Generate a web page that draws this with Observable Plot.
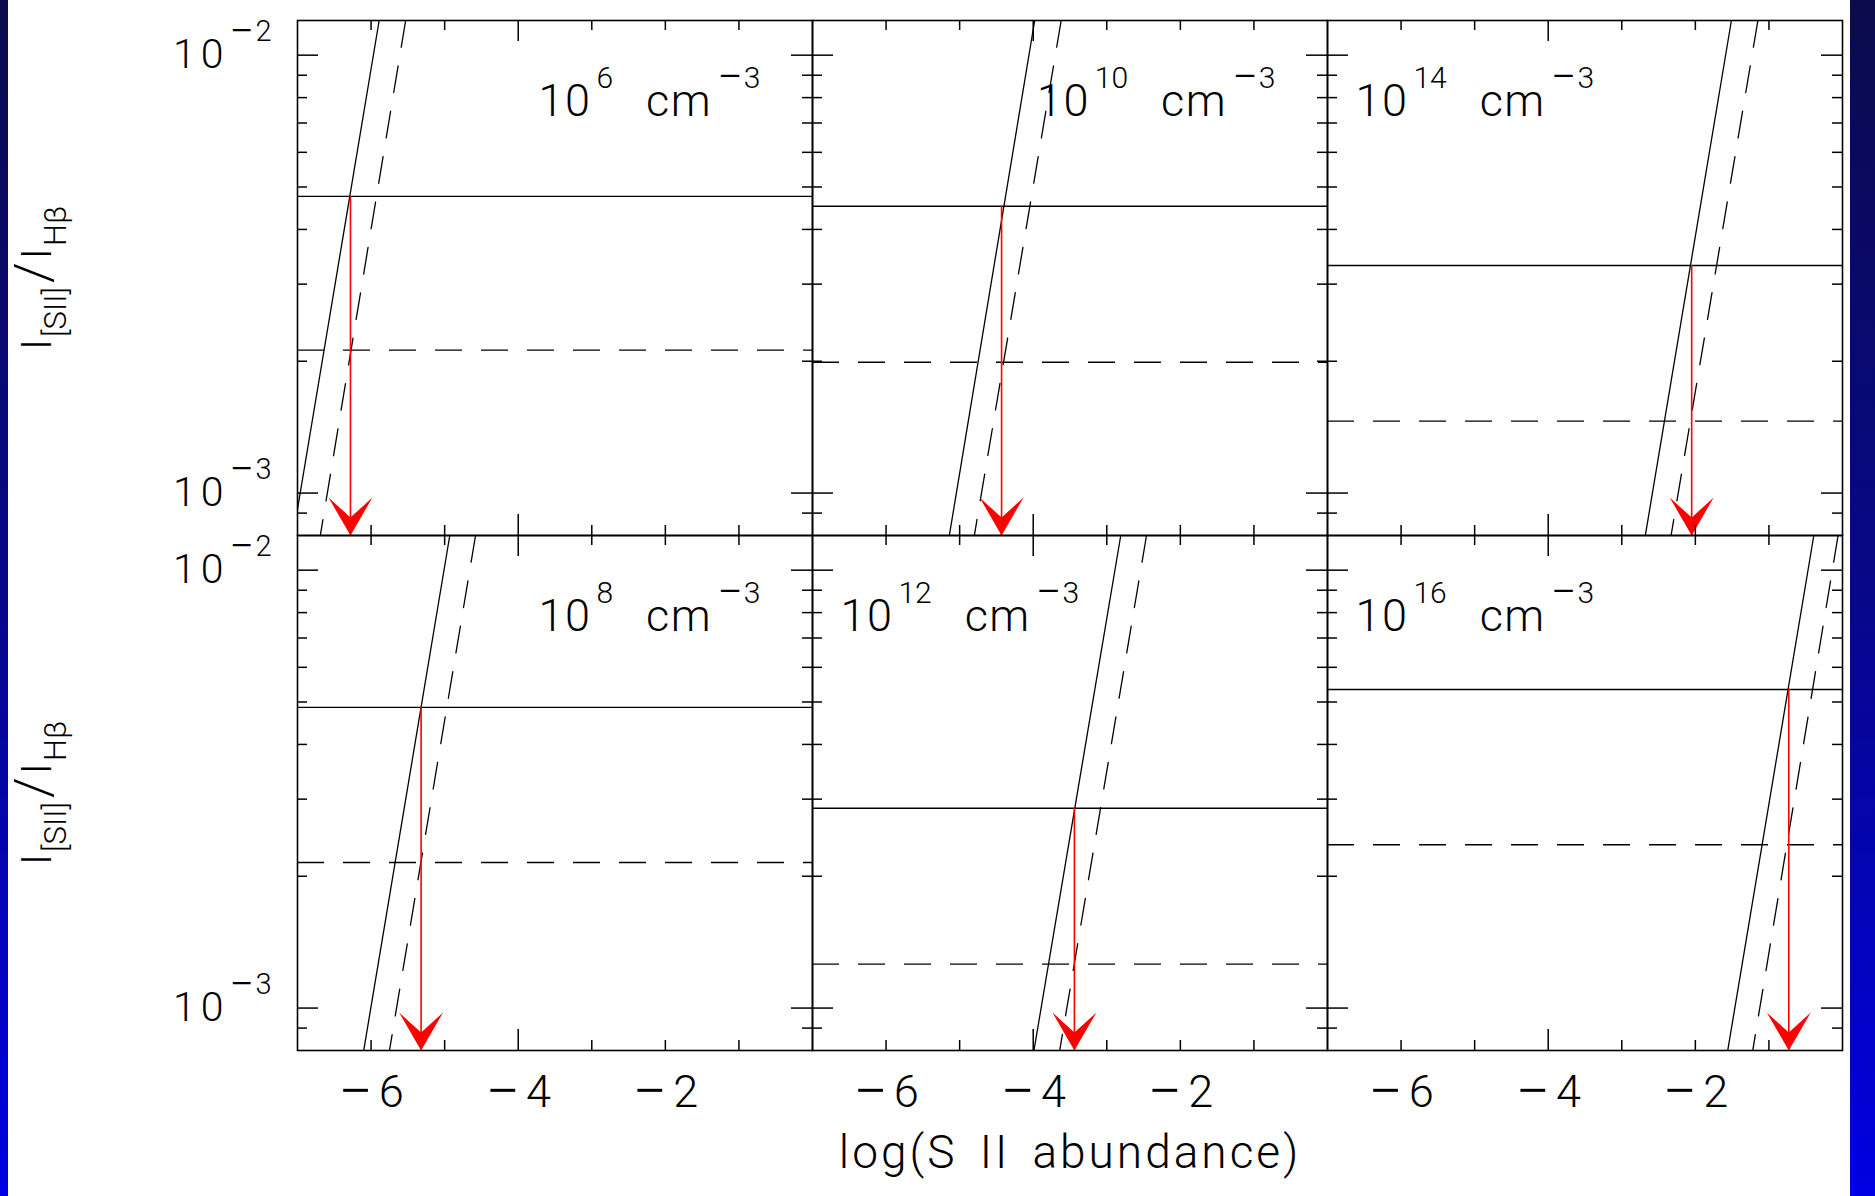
<!DOCTYPE html>
<html>
<head>
<meta charset="utf-8">
<script src="https://cdn.jsdelivr.net/npm/d3@7"></script>
<script src="https://cdn.jsdelivr.net/npm/@observablehq/plot@0.6"></script>
<style>
html, body { margin: 0; padding: 0; background: #fff; overflow: hidden; width: 1875px; height: 1196px; }
#chart { position: absolute; left: 0; top: 0; }
.stripe { position: absolute; top: 0; height: 1196px; z-index: 5;
  background: linear-gradient(to bottom, #0b0b4c 0%, #07078a 50%, #0000e2 100%); }
svg text, svg tspan { white-space: pre; }
</style>
</head>
<body>
<div class="stripe" style="left:0;width:8px"></div>
<div class="stripe" style="left:1850px;width:25px"></div>
<div id="chart"></div>
<script>
// ---------------- data ----------------
const densityExp     = ["6", "10", "14", "8", "12", "16"];      // n_e = 10^exp cm^-3
const panelCol       = [0, 1, 2, 0, 1, 2];
const panelRow       = [0, 0, 0, 1, 1, 1];
const solidLevel     = [4.76e-3, 4.52e-3, 3.31e-3, 4.86e-3, 2.86e-3, 5.34e-3]; // solid horizontal
const dashedLevel    = [2.12e-3, 1.99e-3, 1.46e-3, 2.15e-3, 1.26e-3, 2.36e-3]; // dashed horizontal
const arrowAbundance = [-6.28, -4.43, -2.05, -5.32, -3.44, -0.73];             // red arrow position
// sloped model lines: abundance where they cross the top and the bottom of each panel
const solidTopX      = [-5.89, -3.98, -1.51, -4.93, -2.81, -0.39];
const solidBottomX   = [-7.06, -5.14, -2.68, -6.10, -3.99, -1.56];
const dashedTopX     = [-5.53, -3.62, -1.15, -4.58, -2.46, -0.06];
const dashedBottomX  = [-6.69, -4.80, -2.33, -5.75, -3.64, -1.22];
const ratioTop = 1.2e-2, ratioBottom = 8.0e-4;
const abundanceDomain = [-7, 0];
const xLabelTicks = [-6, -4, -2];
const xMajorTicks = [-4];
const xMinorTicks = [-6, -5, -3, -2, -1];
const yLabelTicks = [1e-2, 1e-3];
const yMinorTicks = [9e-3, 8e-3, 7e-3, 6e-3, 5e-3, 4e-3, 3e-3, 2e-3, 9e-4];
const xTitle = "log(S II abundance)";
const yTitle = "I_{[SII]}/I_{Hβ}";

// ---------------- layout ----------------
const W = 1875, H = 1196;
const mL = 297, mR = 33, mT = 20, mB = 146;
const PW = (W - mL - mR) / 3, PH = (H - mT - mB) / 2;
const leftAlignedLabels = new Set(["14", "12", "16"]);

const panels = densityExp.map((e, i) => ({
  i, exp: e, col: panelCol[i], row: panelRow[i],
  solid: solidLevel[i], dashed: dashedLevel[i], arrow: arrowAbundance[i],
  label: `10^{${e}}  cm^{−3}`
}));
const solidPts = panels.flatMap(p => [
  {i: p.i, col: p.col, row: p.row, x: solidTopX[p.i], y: ratioTop},
  {i: p.i, col: p.col, row: p.row, x: solidBottomX[p.i], y: ratioBottom}
]);
const dashedPts = panels.flatMap(p => [
  {i: p.i, col: p.col, row: p.row, x: dashedTopX[p.i], y: ratioTop},
  {i: p.i, col: p.col, row: p.row, x: dashedBottomX[p.i], y: ratioBottom}
]);

const arrowHead = {
  draw(context) {
    context.moveTo(0, 0);
    context.lineTo(-22, -38);
    context.lineTo(0, -18);
    context.lineTo(22, -38);
    context.closePath();
  }
};

const black = "#000";
const dash = "27,19";

const chart = Plot.plot({
  width: W, height: H,
  marginLeft: mL, marginRight: mR, marginTop: mT, marginBottom: mB,
  style: {fontFamily: "Roboto, 'DejaVu Sans', sans-serif", fontWeight: "300", background: "white", color: "black"},
  fx: {domain: [0, 1, 2], padding: 0, axis: null},
  fy: {domain: [0, 1], padding: 0, axis: null},
  x: {domain: abundanceDomain, label: null},
  y: {type: "log", domain: [ratioBottom, ratioTop], label: null},
  marks: [
    // model curves
    Plot.line(solidPts, {x: "x", y: "y", z: "i", fx: "col", fy: "row", stroke: black, strokeWidth: 1.3, clip: true}),
    Plot.line(dashedPts, {x: "x", y: "y", z: "i", fx: "col", fy: "row", stroke: black, strokeWidth: 1.3, strokeDasharray: dash, clip: true}),
    Plot.ruleY(panels, {y: "solid", fx: "col", fy: "row", stroke: black, strokeWidth: 1.4}),
    Plot.ruleY(panels, {y: "dashed", fx: "col", fy: "row", stroke: black, strokeWidth: 1.4, strokeDasharray: dash}),
    // red arrows
    Plot.ruleX(panels, {x: "arrow", y1: "solid", y2: () => ratioBottom, fx: "col", fy: "row", stroke: "#ff0000", strokeWidth: 1.6}),
    Plot.dot(panels, {x: "arrow", frameAnchor: "bottom", fx: "col", fy: "row", symbol: arrowHead, fill: "#ff0000", stroke: "none", r: 3}),
    // frame and inward ticks on all four sides
    Plot.frame({stroke: black, strokeWidth: 1.6}),
    Plot.tickY(yLabelTicks, {y: d => d, insetRight: PW - 21, stroke: black, strokeWidth: 1.5}),
    Plot.tickY(yLabelTicks, {y: d => d, insetLeft: PW - 21, stroke: black, strokeWidth: 1.5}),
    Plot.tickY(yMinorTicks, {y: d => d, insetRight: PW - 10, stroke: black, strokeWidth: 1.5}),
    Plot.tickY(yMinorTicks, {y: d => d, insetLeft: PW - 10, stroke: black, strokeWidth: 1.5}),
    Plot.tickX(xMajorTicks, {x: d => d, insetBottom: PH - 21, stroke: black, strokeWidth: 1.5}),
    Plot.tickX(xMajorTicks, {x: d => d, insetTop: PH - 21, stroke: black, strokeWidth: 1.5}),
    Plot.tickX(xMinorTicks, {x: d => d, insetBottom: PH - 10, stroke: black, strokeWidth: 1.5}),
    Plot.tickX(xMinorTicks, {x: d => d, insetTop: PH - 10, stroke: black, strokeWidth: 1.5}),
    // tick labels
    Plot.axisX({ticks: xLabelTicks, anchor: "bottom", tickSize: 0, tickPadding: 25, fontSize: 45,
                tickFormat: d3.format("d"), label: null}),
    Plot.axisY({ticks: yLabelTicks, anchor: "left", tickSize: 0, tickPadding: 26, fontSize: 41,
                tickFormat: d => `10^{${d3.format("d")(Math.round(Math.log10(d)))}}`, label: null}),
    // density labels
    Plot.text(panels.filter(p => !leftAlignedLabels.has(p.exp)), {
      fx: "col", fy: "row", text: "label", frameAnchor: "top-right", textAnchor: "end",
      lineAnchor: "bottom", dx: -52, dy: 95, fontSize: 45, fill: black}),
    Plot.text(panels.filter(p => leftAlignedLabels.has(p.exp)), {
      fx: "col", fy: "row", text: "label", frameAnchor: "top-left", textAnchor: "start",
      lineAnchor: "bottom", dx: 28, dy: 95, fontSize: 45, fill: black}),
    // axis titles
    Plot.text([0, 1], {fx: () => 0, fy: d => d, text: () => yTitle, frameAnchor: "left",
      textAnchor: "middle", rotate: -90, dx: -247, lineAnchor: "bottom", fontSize: 43, fill: black}),
    Plot.text([0], {fx: () => 1, fy: () => 1, text: () => xTitle, frameAnchor: "bottom",
      textAnchor: "middle", lineAnchor: "bottom", dy: 117, fontSize: 46, fill: black})
  ]
});

document.getElementById("chart").appendChild(chart);

// ---------------- superscripts / subscripts / wide minus as tspans ----------------
function richify(el, o) {
  const s = el.textContent;
  const re = /\^\{([^}]*)\}|_\{([^}]*)\}|(\/)|([^^_\/]+)/g;
  while (el.firstChild) el.removeChild(el.firstChild);
  let m, cur = 0, first = true;
  const ms = o.minusScale || 1;
  function emit(text, size, shift, dx, ls) {
    const ts = document.createElementNS("http://www.w3.org/2000/svg", "tspan");
    ts.textContent = text;
    ts.setAttribute("font-size", size);
    const dy = cur - shift;
    if (Math.abs(dy) > 1e-6) ts.setAttribute("dy", dy);
    if (dx) ts.setAttribute("dx", dx);
    if (ls) ts.setAttribute("letter-spacing", ls);
    cur = shift;
    el.appendChild(ts);
  }
  while ((m = re.exec(s))) {
    let text, shift = 0, size = o.size, dx = 0, ls = 0;
    if (m[1] !== undefined) { text = m[1]; shift = o.raise; size = o.supSize; dx = o.supGap || 0; ls = o.supSpacing || 0; }
    else if (m[2] !== undefined) { text = m[2]; shift = -o.lower; size = o.subSize; dx = o.subGap || 0; }
    else if (m[3] !== undefined) { text = "/"; size = o.slashSize || o.size; dx = first ? 0 : (o.slashGap || 0); }
    else { text = m[4]; dx = first ? 0 : (o.backGap || 0); ls = o.baseSpacing || 0; }
    const segs = text.split(/(−)/).filter(d => d !== "");
    segs.forEach((seg, k) => {
      const d = k === 0 ? dx : 0;
      if (seg === "−" && ms !== 1) emit(seg, size * ms, shift - (ms - 1) * 0.3 * size, d, o.minusGap || 0);
      else emit(seg, size, shift, d, ls);
    });
    first = false;
  }
}
const svg = d3.select(chart);
svg.selectAll("text").each(function () {
  const t = this.textContent;
  if (t.includes("cm^{")) richify(this, {size: 45, supSize: 30, raise: 28, supGap: 5, backGap: 8, baseSpacing: 1.5, minusScale: 1.5, minusGap: 1});
  else if (t.startsWith("10^{")) richify(this, {size: 41, supSize: 29, raise: 27, supGap: 1, baseSpacing: 5, minusScale: 1.5, minusGap: 1});
  else if (t.includes("_{")) richify(this, {size: 43, subSize: 31, lower: 15, subGap: 2, slashSize: 52, slashGap: 4, backGap: 3});
  else if (t === xTitle) d3.select(this).attr("letter-spacing", 3).attr("word-spacing", 8);
});
svg.selectAll('g[aria-label="x-axis tick label"] text').each(function () {
  richify(this, {size: 45, minusScale: 1.35, minusGap: 6});
});
</script>
</body>
</html>
